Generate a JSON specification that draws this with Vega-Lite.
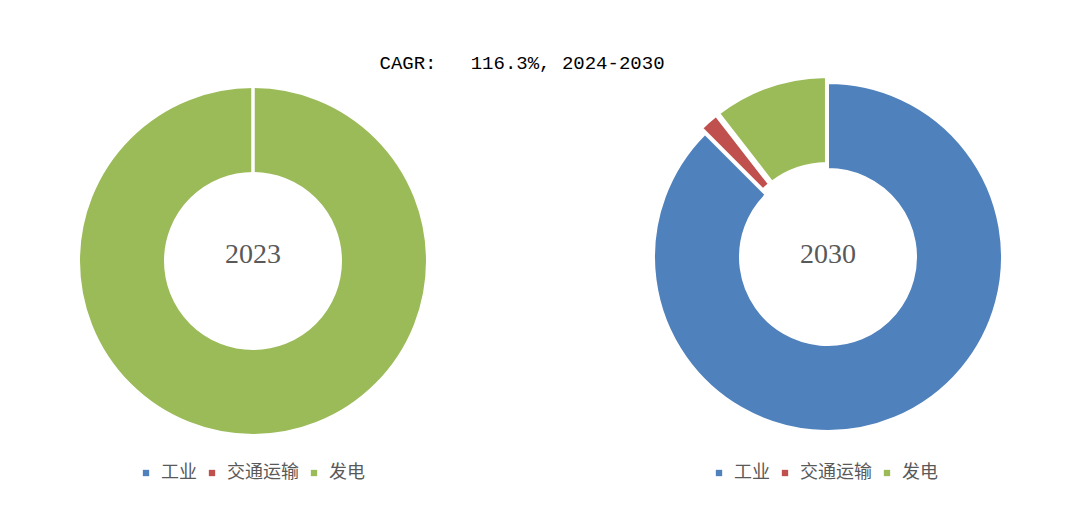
{
  "$schema": "https://vega.github.io/schema/vega-lite/v6.json",
  "padding": {"top": 54, "left": 0, "right": 0, "bottom": 0},
  "background": "white",
  "bounds": "flush",
  "config": {"view": {"stroke": null}},
  "title": {"text": "CAGR:\u00a0\u00a0\u00a0116.3%, 2024-2030", "anchor": "middle", "font": "Liberation Mono", "fontSize": 19, "fontWeight": "normal", "color": "#000000", "offset": 0, "dx": -17},
  "data": {"values": [
    {"year": "2023", "cat": "工业", "value": 0, "order": 1, "explode": false},
    {"year": "2023", "cat": "交通运输", "value": 0, "order": 2, "explode": false},
    {"year": "2023", "cat": "发电", "value": 100, "order": 3, "explode": false},
    {"year": "2030", "cat": "工业", "value": 87.5, "order": 1, "explode": false},
    {"year": "2030", "cat": "交通运输", "value": 2.0, "order": 2, "explode": true},
    {"year": "2030", "cat": "发电", "value": 10.5, "order": 3, "explode": true}
  ]},
  "spacing": 72,
  "resolve": {"scale": {"color": "independent", "theta": "independent"}, "legend": {"color": "independent"}},
  "hconcat": [
    {
      "width": 506, "height": 362,
      "transform": [
        {"filter": "datum.year == '2023'"},
        {"stack": "value", "groupby": [], "sort": [{"field": "order", "order": "ascending"}], "as": ["t0", "t1"]}
      ],
      "layer": [
        {
          "transform": [{"filter": "!datum.explode"}],
          "mark": {"type": "arc", "radius": 174, "radius2": 88, "stroke": "white", "strokeWidth": 2},
          "encoding": {
            "theta": {"field": "t0", "type": "quantitative", "scale": {"domain": [0, 100]}},
            "theta2": {"field": "t1"},
            "color": {"field": "cat", "type": "nominal", "scale": {"domain": ["工业", "交通运输", "发电"], "range": ["#4F81BD", "#C0504D", "#9BBB59"]},
              "legend": {"title": null, "orient": "none", "legendX": 137, "legendY": 384, "direction": "horizontal", "symbolType": "square", "symbolSize": 40, "symbolStrokeWidth": 0, "labelFont": "Noto Sans CJK SC", "labelFontSize": 18, "labelColor": "#595959", "labelOffset": 6, "columnPadding": 6}}
          }
        },
        {
          "transform": [{"filter": "datum.value == 0"}],
          "mark": {"type": "arc", "radius": 174, "radius2": 88, "stroke": "white", "strokeWidth": 3, "fillOpacity": 0},
          "encoding": {
            "theta": {"field": "t0", "type": "quantitative", "scale": {"domain": [0, 100]}},
            "theta2": {"field": "t1"}
          }
        },
        {
          "transform": [{"filter": "datum.order == 1"}],
          "mark": {"type": "text", "font": "Liberation Serif", "fontSize": 28, "color": "#595959", "baseline": "middle", "align": "center", "dy": -6},
          "encoding": {"text": {"field": "year"}}
        }
      ]
    },
    {
      "width": 500, "height": 354,
      "transform": [
        {"filter": "datum.year == '2030'"},
        {"stack": "value", "groupby": [], "sort": [{"field": "order", "order": "ascending"}], "as": ["t0", "t1"]}
      ],
      "layer": [
        {
          "transform": [{"filter": "!datum.explode"}],
          "mark": {"type": "arc", "radius": 174, "radius2": 88, "stroke": "white", "strokeWidth": 2},
          "encoding": {
            "theta": {"field": "t0", "type": "quantitative", "scale": {"domain": [0, 100]}},
            "theta2": {"field": "t1"},
            "color": {"field": "cat", "type": "nominal", "scale": {"domain": ["工业", "交通运输", "发电"], "range": ["#4F81BD", "#C0504D", "#9BBB59"]},
              "legend": {"title": null, "orient": "none", "legendX": 132, "legendY": 384, "direction": "horizontal", "symbolType": "square", "symbolSize": 40, "symbolStrokeWidth": 0, "labelFont": "Noto Sans CJK SC", "labelFontSize": 18, "labelColor": "#595959", "labelOffset": 6, "columnPadding": 6}}
          }
        },
        {
          "transform": [{"filter": "datum.explode"}],
          "mark": {"type": "arc", "radius": 180, "radius2": 94, "stroke": "white", "strokeWidth": 2, "padAngle": 0.02},
          "encoding": {
            "theta": {"field": "t0", "type": "quantitative", "scale": {"domain": [0, 100]}},
            "theta2": {"field": "t1"},
            "color": {"field": "cat", "type": "nominal", "scale": {"domain": ["工业", "交通运输", "发电"], "range": ["#4F81BD", "#C0504D", "#9BBB59"]}}
          }
        },
        {
          "transform": [{"filter": "datum.order == 1"}],
          "mark": {"type": "text", "font": "Liberation Serif", "fontSize": 28, "color": "#595959", "baseline": "middle", "align": "center", "dy": -2},
          "encoding": {"text": {"field": "year"}}
        }
      ]
    }
  ]
}
